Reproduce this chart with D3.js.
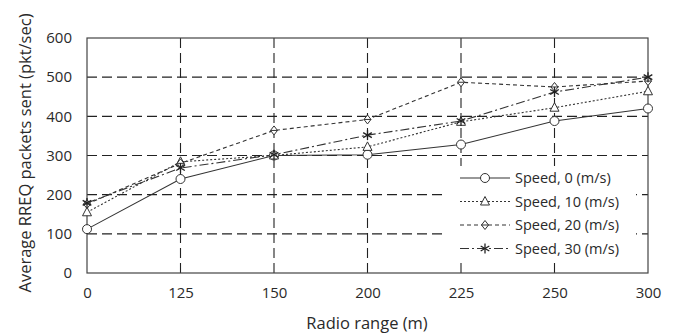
<!DOCTYPE html>
<html>
<head>
<meta charset="utf-8">
<script src="https://cdn.jsdelivr.net/npm/d3@7"></script>
<style>
  body { margin: 0; background: #fff; }
  text { font-family: "Open Sans", sans-serif; fill: #2a2a2a; }
</style>
</head>
<body>
<div id="chart"></div>
<script>
// ===================== DATA =====================
const ranges = ["0", "125", "150", "200", "225", "250", "300"];
const yTicks = [0, 100, 200, 300, 400, 500, 600];
const speed0 = [112, 240, 300, 302, 328, 388, 420];
const speed10 = [155, 284, 300, 322, 386, 422, 464];
const speed20 = [176, 280, 364, 392, 487, 475, 490];
const speed30 = [179, 268, 302, 352, 388, 462, 500];
const seriesNames = ["Speed, 0 (m/s)", "Speed, 10 (m/s)", "Speed, 20 (m/s)", "Speed, 30 (m/s)"];

const series = [
  { name: seriesNames[0], values: speed0, dash: null, mark: "circle" },
  { name: seriesNames[1], values: speed10, dash: "2,2", mark: "triangle" },
  { name: seriesNames[2], values: speed20, dash: "4,3", mark: "diamond" },
  { name: seriesNames[3], values: speed30, dash: "9,3,2,3", mark: "star" }
];

// ===================== CHART =====================
const width = 674, height = 336;
const m = { left: 87, right: 26, top: 38, bottom: 63 };

const svg = d3.select("#chart").append("svg")
  .attr("width", width)
  .attr("height", height);

const x = d3.scalePoint().domain(ranges).range([m.left, width - m.right]);
const y = d3.scaleLinear().domain([0, 600]).range([height - m.bottom, m.top]);

// grid
svg.append("g")
  .selectAll("line")
  .data(yTicks.slice(1, -1))
  .join("line")
  .attr("x1", m.left).attr("x2", width - m.right)
  .attr("y1", d => y(d)).attr("y2", d => y(d))
  .attr("stroke", "#222").attr("stroke-width", 1.1)
  .attr("stroke-dasharray", "10,5");

svg.append("g")
  .selectAll("line")
  .data(ranges.slice(1, -1))
  .join("line")
  .attr("x1", d => x(d)).attr("x2", d => x(d))
  .attr("y1", m.top).attr("y2", height - m.bottom)
  .attr("stroke", "#222").attr("stroke-width", 1.1)
  .attr("stroke-dasharray", "10,5");

// frame
svg.append("rect")
  .attr("x", m.left).attr("y", m.top)
  .attr("width", width - m.left - m.right)
  .attr("height", height - m.top - m.bottom)
  .attr("fill", "none").attr("stroke", "#444").attr("stroke-width", 1.2);

// axes labels
const xAxis = svg.append("g")
  .attr("transform", `translate(0,${height - m.bottom + 10})`)
  .call(d3.axisBottom(x).tickSize(0).tickPadding(4));
xAxis.select(".domain").remove();
xAxis.selectAll("text").attr("font-size", 15).attr("fill", "#2a2a2a")
  .style("font-family", "'Open Sans', sans-serif");

const yAxis = svg.append("g")
  .attr("transform", `translate(${m.left - 15},0)`)
  .call(d3.axisLeft(y).tickValues(yTicks).tickSize(0).tickPadding(0));
yAxis.select(".domain").remove();
yAxis.selectAll("text").attr("font-size", 15).attr("fill", "#2a2a2a")
  .style("font-family", "'Open Sans', sans-serif");

svg.append("text")
  .attr("x", 367).attr("y", 329)
  .attr("text-anchor", "middle")
  .attr("font-size", 16.5)
  .text("Radio range (m)");

svg.append("text")
  .attr("transform", `translate(31,153) rotate(-90)`)
  .attr("text-anchor", "middle")
  .attr("font-size", 16.5)
  .text("Average RREQ packets sent (pkt/sec)");

// markers
function drawMark(g, type, cx, cy) {
  if (type === "circle") {
    g.append("circle").attr("cx", cx).attr("cy", cy).attr("r", 4.5)
      .attr("fill", "#fff").attr("stroke", "#333");
  } else if (type === "triangle") {
    g.append("path")
      .attr("d", `M${cx},${cy - 5}L${cx + 4.5},${cy + 3.5}L${cx - 4.5},${cy + 3.5}Z`)
      .attr("fill", "#fff").attr("stroke", "#333");
  } else if (type === "diamond") {
    g.append("path")
      .attr("d", `M${cx},${cy - 4.5}L${cx + 3.5},${cy}L${cx},${cy + 4.5}L${cx - 3.5},${cy}Z`)
      .attr("fill", "#fff").attr("stroke", "#333");
    g.append("line").attr("x1", cx - 3.5).attr("x2", cx + 3.5)
      .attr("y1", cy).attr("y2", cy).attr("stroke", "#333");
  } else {
    const r = 5;
    [0, 60, 120].forEach(a => {
      const rad = (a + 90) * Math.PI / 180;
      g.append("line")
        .attr("x1", cx - r * Math.cos(rad)).attr("y1", cy - r * Math.sin(rad))
        .attr("x2", cx + r * Math.cos(rad)).attr("y2", cy + r * Math.sin(rad))
        .attr("stroke", "#222").attr("stroke-width", 1.3);
    });
  }
}

const line = d3.line().x((d, i) => x(ranges[i])).y(d => y(d));

series.forEach(s => {
  svg.append("path")
    .datum(s.values)
    .attr("d", line)
    .attr("fill", "none")
    .attr("stroke", "#333")
    .attr("stroke-width", 1.1)
    .attr("stroke-dasharray", s.dash);
});
series.forEach(s => {
  const g = svg.append("g");
  s.values.forEach((v, i) => drawMark(g, s.mark, x(ranges[i]), y(v)));
});

// legend
const lg = svg.append("g");
lg.append("rect")
  .attr("x", 443).attr("y", 166).attr("width", 193).attr("height", 97)
  .attr("fill", "#fff");
series.forEach((s, i) => {
  const ly = 178 + i * 23.5;
  lg.append("line")
    .attr("x1", 460).attr("x2", 510).attr("y1", ly).attr("y2", ly)
    .attr("stroke", "#333").attr("stroke-width", 1.1)
    .attr("stroke-dasharray", s.dash);
  drawMark(lg, s.mark, 485, ly);
  lg.append("text")
    .attr("x", 515).attr("y", ly + 5)
    .attr("font-size", 14.5)
    .text(s.name);
});
</script>
</body>
</html>
